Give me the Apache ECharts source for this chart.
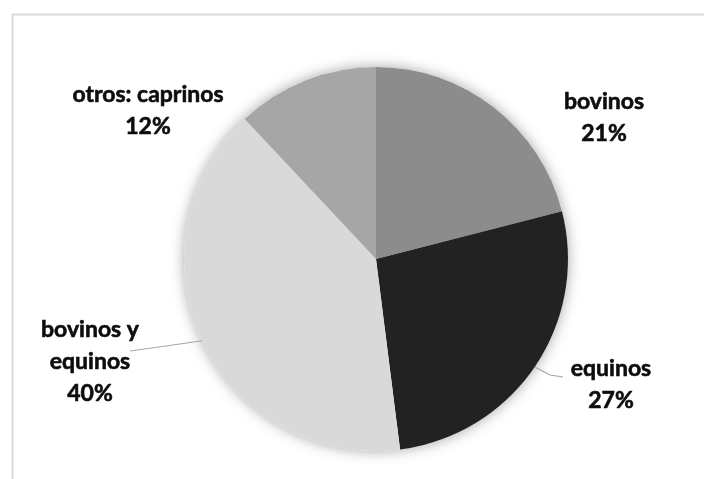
<!DOCTYPE html>
<html>
<head>
<meta charset="utf-8">
<script src="https://cdn.jsdelivr.net/npm/echarts@6/dist/echarts.min.js"></script>
<style>
  html, body { margin: 0; padding: 0; background: #ffffff; }
  #chart { width: 704px; height: 479px; }
</style>
</head>
<body>
<div id="chart"></div>
<script>
// Livestock shares, clockwise from 12 o'clock
const categories = ['bovinos', 'equinos', 'bovinos y\nequinos', 'otros: caprinos'];
const shares = [21, 27, 40, 12];
const sliceColors = ['#8c8c8c', '#222222', '#d9d9d9', '#a6a6a6'];

// Label block centres (px); leader line bend and end points where drawn
const labelSpots = [[604, 118], [611, 385], [90, 362], [148, 111]];
const leaderEnds = [null, [[550, 375], [563, 377]], [[166, 346], [130, 351]], null];

const CENTER = [376, 259];
const RADIUS = 192;

const chart = echarts.init(document.getElementById('chart'), null, { renderer: 'canvas' });

chart.setOption({
  backgroundColor: '#ffffff',
  animation: false,
  graphic: [{
    type: 'rect',
    left: 10, top: 12,
    shape: { width: 720, height: 500 },
    style: { fill: 'none', stroke: '#d9d9d9', lineWidth: 2 },
    silent: true
  }],
  series: [
    {
      // soft shadow disc underneath the pie
      type: 'pie',
      center: CENTER,
      radius: RADIUS,
      silent: true,
      z: 1,
      label: { show: false },
      labelLine: { show: false },
      itemStyle: {
        color: '#ffffff',
        shadowBlur: 14,
        shadowColor: 'rgba(0,0,0,0.35)'
      },
      data: [{ value: 1, name: '' }]
    },
    {
      type: 'pie',
      center: CENTER,
      radius: RADIUS,
      startAngle: 90,
      clockwise: true,
      z: 2,
      itemStyle: { borderWidth: 0 },
      label: {
        show: true,
        formatter: '{b}\n{d}%',
        fontFamily: 'Lato',
        fontWeight: 'bold',
        fontSize: 23,
        lineHeight: 32,
        color: '#0d0d0d',
        textBorderColor: '#0d0d0d',
        textBorderWidth: 0.6,
        align: 'center'
      },
      labelLine: {
        show: true,
        lineStyle: { color: '#a6a6a6', width: 1.2 }
      },
      labelLayout: function (p) {
        const i = p.dataIndex;
        const s = labelSpots[i];
        const out = { x: s[0], y: s[1], align: 'center', verticalAlign: 'middle' };
        if (leaderEnds[i] && p.labelLinePoints) {
          out.labelLinePoints = [p.labelLinePoints[0]].concat(leaderEnds[i]);
        }
        return out;
      },
      data: categories.map((name, i) => ({
        name: name,
        value: shares[i],
        itemStyle: { color: sliceColors[i] },
        labelLine: { show: !!leaderEnds[i] }
      }))
    }
  ]
});
</script>
</body>
</html>
